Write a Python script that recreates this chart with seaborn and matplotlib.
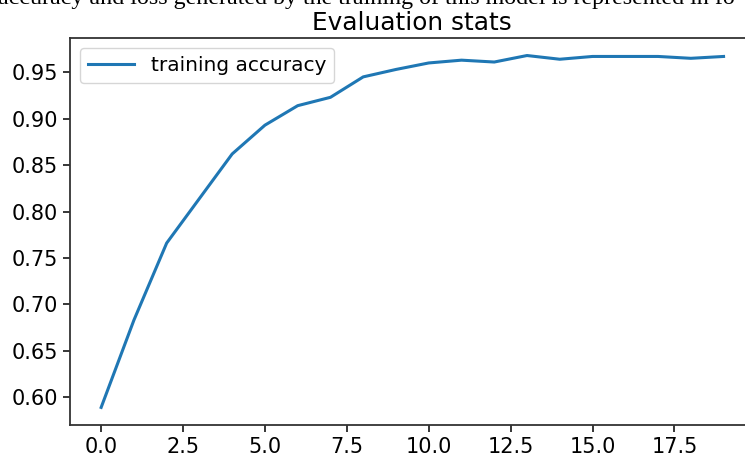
import numpy as np
import pandas as pd
import matplotlib
matplotlib.use('Agg')
import matplotlib.pyplot as plt
import seaborn as sns

# Training accuracy per epoch
epochs = list(range(20))
train_acc = [0.589, 0.683, 0.766, 0.814, 0.862, 0.893, 0.914, 0.923, 0.945, 0.953,
             0.960, 0.963, 0.961, 0.968, 0.964, 0.967, 0.967, 0.967, 0.965, 0.967]
series_label = 'training accuracy'
chart_title = 'Evaluation stats'
caption = 'accuracy and loss generated by the training of this model is represented in fo'

df = pd.DataFrame({'epoch': epochs, 'acc': train_acc})

fig = plt.figure(figsize=(7.45, 4.57), dpi=100)
ax = fig.add_axes([0.094, 0.070, 0.919, 0.847])

sns.lineplot(data=df, x='epoch', y='acc', ax=ax, color='#1f77b4',
             linewidth=2.2, label=series_label)

ax.set_xticks(np.arange(0, 20, 2.5))
ax.set_yticks(np.arange(0.60, 0.951, 0.05))
ax.tick_params(labelsize=15, width=1.1, length=5)
for s in ax.spines.values():
    s.set_visible(True)
    s.set_linewidth(1.3)
    s.set_color('#333333')
ax.set_xlabel('')
ax.set_ylabel('')
ax.set_title(chart_title, fontsize=17.8, pad=6)
ax.legend(loc='upper left', fontsize=14.5, handlelength=2.3)

# cut-off document text at top of the screenshot
fig.text(-0.003, 1 - 4 / 457, caption, family='Liberation Serif', fontsize=17.3,
         va='baseline', ha='left')

fig.savefig('out.png', dpi=100)
